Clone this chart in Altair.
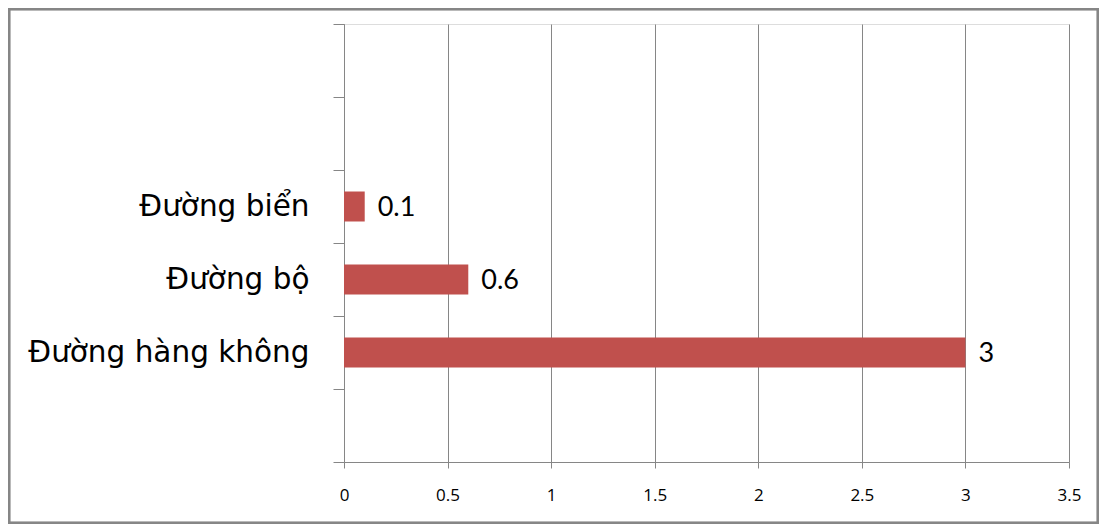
import altair as alt
import pandas as pd

# Data
slots = ["", " ", "Đường biển", "Đường bộ", "Đường hàng không", "  "]
categories = ["Đường biển", "Đường bộ", "Đường hàng không"]
values = [0.1, 0.6, 3]
x_ticks = [0, 0.5, 1, 1.5, 2, 2.5, 3, 3.5]

df = pd.DataFrame({"cat": categories, "val": values})

W, H = 725, 438
GRAY = "#868686"

x_enc = alt.X(
    "val:Q",
    scale=alt.Scale(domain=[0, 3.5], nice=False, zero=True),
    axis=alt.Axis(
        values=x_ticks, title=None, grid=True, gridColor=GRAY, gridWidth=1,
        domainColor=GRAY, tickColor=GRAY, tickSize=6, labelPadding=19,
        labelFont="Open Sans", labelFontSize=17, labelColor="#000000",
        labelFlush=False, format="~g",
    ),
)
y_enc = alt.Y(
    "cat:N",
    sort=slots,
    scale=alt.Scale(domain=slots, paddingInner=0, paddingOuter=0),
    axis=alt.Axis(
        title=None, tickBand="extent", grid=False, domainColor=GRAY,
        tickColor=GRAY, tickSize=11, labelPadding=24, labelLimit=0,
        labelFont="DejaVu Sans", labelFontSize=29.5, labelColor="#000000",
    ),
)

bars = alt.Chart(df).mark_bar(color="#C0504D", size=30).encode(x=x_enc, y=y_enc)

labels = alt.Chart(df).mark_text(
    align="left", baseline="middle", dx=13, dy=1, font="Lato", fontSize=27,
    color="#000000",
).encode(x=alt.X("val:Q"), y=alt.Y("cat:N", sort=slots), text=alt.Text("val:Q"))

border = alt.Chart(df).mark_rect(
    fill=None, stroke=GRAY, strokeWidth=2.5
).encode(
    x=alt.value(-335), x2=alt.value(754), y=alt.value(-15), y2=alt.value(499)
)

chart = alt.layer(bars, labels, border).properties(
    width=W, height=H,
    padding={"left": 336, "top": 16, "right": 30, "bottom": 62},
    autosize=alt.AutoSizeParams(type="none"),
).configure_view(stroke=None).configure(background="#ffffff")

chart.save("out.html", embed_options={"renderer": "svg", "actions": False})
